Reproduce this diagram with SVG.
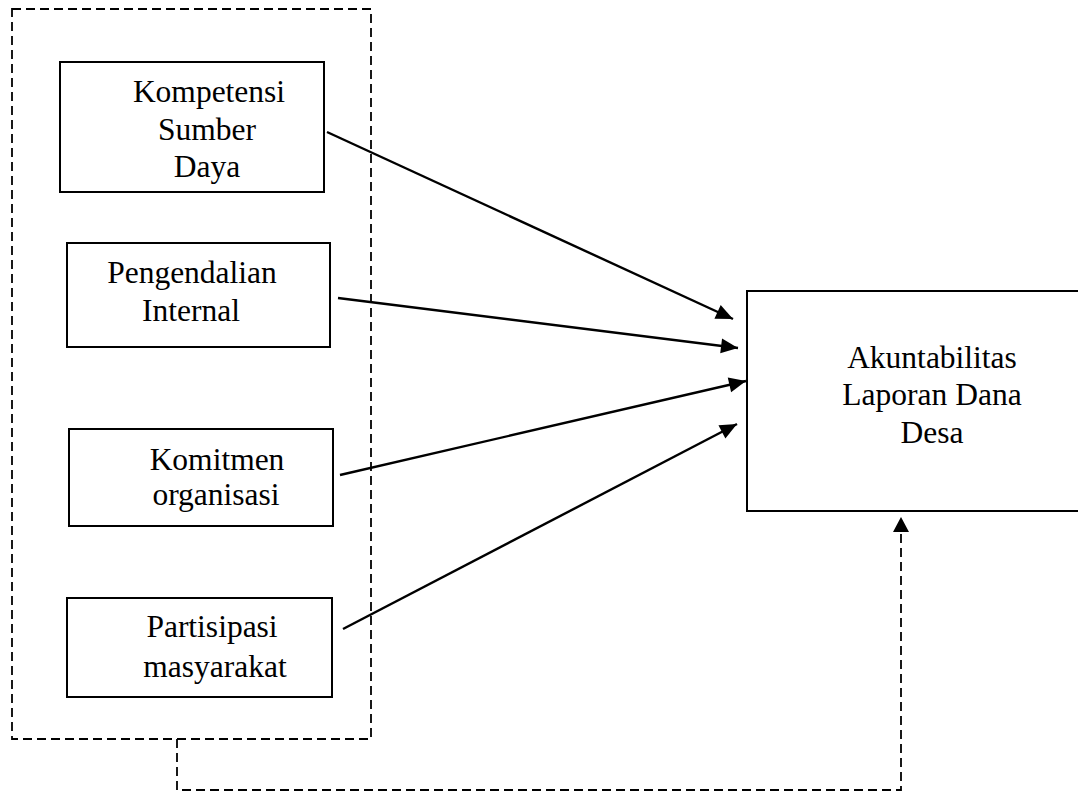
<svg xmlns="http://www.w3.org/2000/svg" width="1078" height="794" viewBox="0 0 1078 794">
<style>
.box{fill:#fff;stroke:#000;stroke-width:2}
.dash{fill:none;stroke:#000;stroke-width:1.8;stroke-dasharray:9,5}
.lbl{font-family:"Liberation Serif","Times New Roman",serif;font-size:31.5px;fill:#000;text-anchor:middle}
.arr{stroke:#000;stroke-width:2.4;fill:none;marker-end:url(#ah)}
</style>
<defs>
<marker id="ah" markerUnits="userSpaceOnUse" markerWidth="22" markerHeight="22" viewBox="0 0 22 22" refX="19" refY="11" orient="auto">
<path d="M2,3.5 L19,11 L2,18.5 Z" fill="#000"/>
</marker>
<marker id="ah2" markerUnits="userSpaceOnUse" markerWidth="20" markerHeight="20" viewBox="0 0 20 20" refX="17" refY="10" orient="auto">
<path d="M2,2 L17,10 L2,18 Z" fill="#000"/>
</marker>
</defs>
<rect width="1078" height="794" fill="#fff"/>
<g id="group-independent">
<rect class="dash" x="12" y="9" width="359" height="730"/>
</g>
<g id="n1">
<rect class="box" x="60" y="62" width="264" height="130"/>
<text class="lbl" x="209" y="102">Kompetensi</text>
<text class="lbl" x="207" y="140">Sumber</text>
<text class="lbl" x="207" y="177">Daya</text>
</g>
<g id="n2">
<rect class="box" x="67" y="243" width="263" height="104"/>
<text class="lbl" x="192" y="283">Pengendalian</text>
<text class="lbl" x="191" y="321">Internal</text>
</g>
<g id="n3">
<rect class="box" x="69" y="429" width="264" height="97"/>
<text class="lbl" x="217" y="470">Komitmen</text>
<text class="lbl" x="216" y="505">organisasi</text>
</g>
<g id="n4">
<rect class="box" x="67" y="598" width="265" height="99"/>
<text class="lbl" x="212" y="637">Partisipasi</text>
<text class="lbl" x="215" y="677">masyarakat</text>
</g>
<g id="n5">
<rect class="box" x="747" y="291" width="340" height="220"/>
<text class="lbl" x="932" y="368">Akuntabilitas</text>
<text class="lbl" x="932" y="405">Laporan Dana</text>
<text class="lbl" x="932" y="443">Desa</text>
</g>
<g id="connectors">
<line class="arr" x1="327" y1="132" x2="733" y2="319"/>
<line class="arr" x1="338" y1="298" x2="738" y2="348"/>
<line class="arr" x1="340" y1="475" x2="746" y2="381"/>
<line class="arr" x1="343" y1="629" x2="737" y2="424"/>
<path class="dash" d="M177,739 L177,790 L901,790 L901,517" marker-end="url(#ah2)"/>
</g>
</svg>
